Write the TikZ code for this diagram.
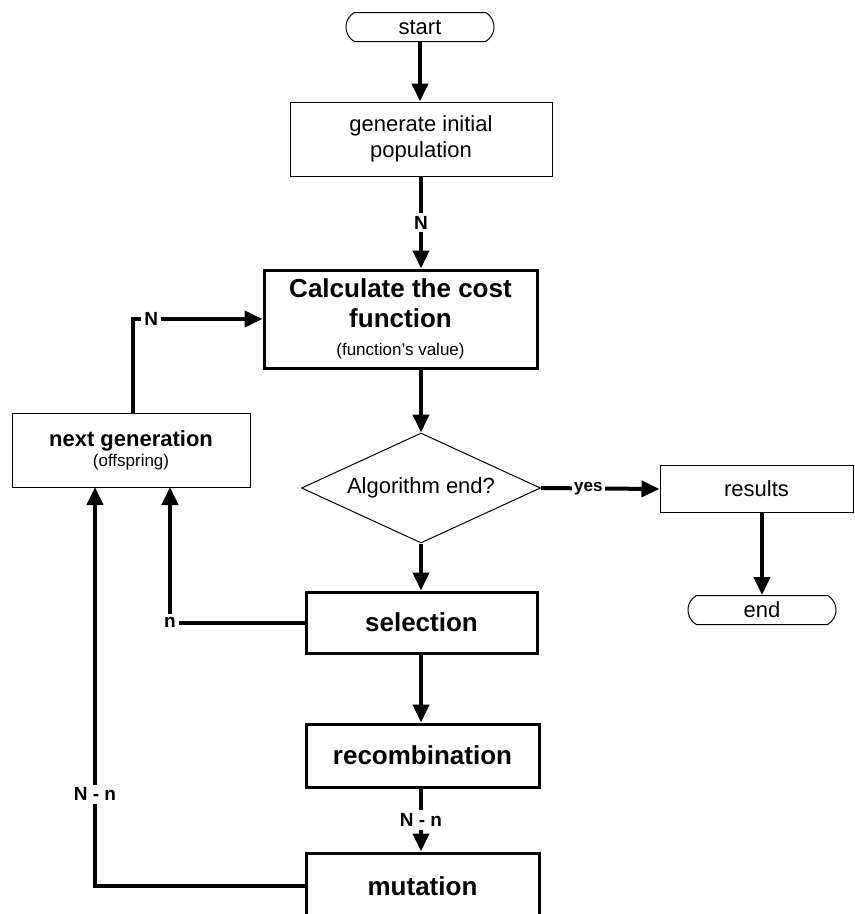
\documentclass[tikz,border=0pt]{standalone}
\usepackage{fontspec}
\setmainfont{Liberation Sans}
\usetikzlibrary{arrows.meta,shapes.geometric,shapes.misc}
\begin{document}
\begin{tikzpicture}[x=1pt,y=-1pt,
  box/.style={draw, line width=1pt, rectangle, inner sep=0pt, align=center},
  tbox/.style={draw, line width=3pt, rectangle, inner sep=0pt, align=center, font=\fontsize{26}{30}\selectfont\bfseries},
  term/.style={draw, line width=1pt, rounded rectangle, rounded rectangle arc length=120, inner sep=0pt, minimum width=148pt, minimum height=29pt, font=\fontsize{22}{24}\selectfont},
  conn/.style={line width=4pt, -{Triangle[length=18pt,width=16pt]}},
  lbl/.style={fill=white, inner sep=3pt, font=\fontsize{19}{20}\selectfont\bfseries},
]
\useasboundingbox (0,0) rectangle (855,914);
\clip (0,0) rectangle (855,914);

\node[term] (start) at (420,27) {start};
\node[box, minimum width=262pt, minimum height=74pt, font=\fontsize{22}{26}\selectfont] (gen) at (421,139) {generate initial\\population};
\node[tbox, minimum width=273pt, minimum height=98pt] (calc) at (400.5,319) {Calculate the cost\\function\\[-2pt]{\fontsize{17}{19}\selectfont\mdseries (function's value)}};
\node[box, minimum width=238pt, minimum height=74pt] (ng) at (131,450) {{\fontsize{22}{26}\selectfont\bfseries next generation}\\[2pt]{\fontsize{17}{20}\selectfont (offspring)}};
\node[draw, line width=1pt, diamond, aspect=2.17, inner sep=0pt, minimum width=239pt, minimum height=110pt, font=\fontsize{22}{24}\selectfont] (dec) at (421,488) {Algorithm end?};
\node[box, minimum width=193pt, minimum height=47pt, font=\fontsize{22}{24}\selectfont] (res) at (756.5,489) {results};
\node[term] (end) at (762,610) {end};
\node[tbox, minimum width=231pt, minimum height=61pt] (sel) at (421.5,622.5) {selection};
\node[tbox, minimum width=233pt, minimum height=63pt] (rec) at (422.5,755.5) {recombination};
\node[tbox, minimum width=233pt, minimum height=66pt] (mut) at (422.5,886) {mutation};

\draw[conn] (start.south) -- (start.south |- gen.north);
\draw[conn] (gen.south) -- node[lbl]{N} (gen.south |- calc.north);
\draw[conn] (421,368) -- (dec.north);
\draw[conn] (dec.east) -- node[lbl, pos=0.4, inner sep=2pt, font=\fontsize{17}{18}\selectfont\bfseries]{yes} (res.west);
\draw[conn] (res.south -| end.north) -- (end.north);
\draw[conn] (dec.south) -- (dec.south |- sel.north);
\draw[conn] (sel.south -| dec.south) -- (dec.south |- rec.north);
\draw[conn] (rec.south -| dec.south) -- node[lbl]{N - n} (dec.south |- mut.north);
\draw[conn] (ng.north -| 133,0) |- node[lbl, pos=0.57]{N} (calc.west |- 0,319);
\draw[conn] (sel.west) -| node[lbl, pos=0.5]{n} (170,487);
\draw[conn] (mut.west) -| node[lbl, pos=0.615]{N - n} (95,487);
\end{tikzpicture}
\end{document}
